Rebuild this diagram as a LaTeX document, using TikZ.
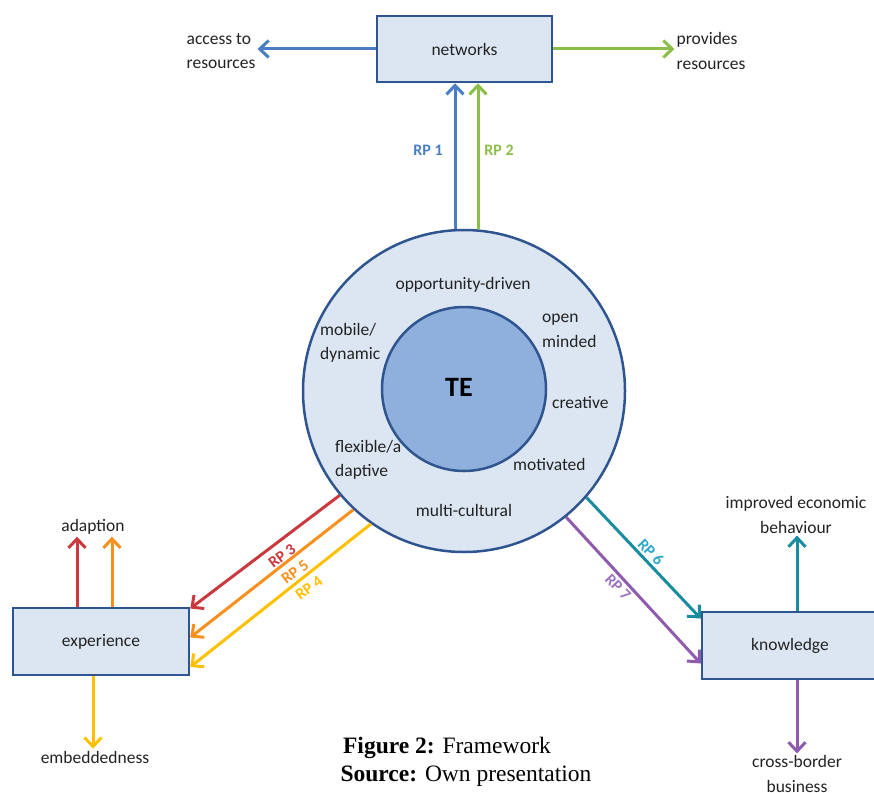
\documentclass[tikz,border=0pt]{standalone}
\usepackage{fontspec}
\setmainfont{Carlito}
\newfontfamily\capfont{Liberation Serif}
\usetikzlibrary{arrows.meta,calc}
\definecolor{cblue}{HTML}{4A7EC4}
\definecolor{cgreen}{HTML}{8BBE48}
\definecolor{cred}{HTML}{C9393E}
\definecolor{corange}{HTML}{F7901E}
\definecolor{cyellow}{HTML}{FFC000}
\definecolor{cteal}{HTML}{1A8CA0}
\definecolor{cteallbl}{HTML}{2BA8C8}
\definecolor{cpurple}{HTML}{8E5BAD}
\definecolor{cpurplelbl}{HTML}{9B72C2}
\definecolor{boxborder}{HTML}{2F5590}
\definecolor{boxfill}{HTML}{DCE6F2}
\definecolor{innerfill}{HTML}{8FB0DD}
\definecolor{txt}{HTML}{222222}
\begin{document}
\begin{tikzpicture}[x=1pt,y=-1pt,
  box/.style={draw=boxborder, fill=boxfill, line width=2.5pt, minimum width=175pt, minimum height=66pt, text=txt, font=\fontsize{17.5}{20}\selectfont},
  lbl/.style={text=txt, align=center, font=\fontsize{17.5}{24.5}\selectfont, inner sep=2pt},
  lbll/.style={lbl, align=left},
  arr/.style={line width=3pt, -{Straight Barb[length=9pt,width=17pt]}},
  rp/.style={font=\bfseries\fontsize{16}{20}\selectfont, inner sep=0pt}
]
\useasboundingbox (0,0) rectangle (874,792);

% boxes
\node[box] (net) at (464.5,49) {networks};
\node[box, minimum width=176pt, minimum height=67pt] (exp) at (101,641.5) {experience};
\node[box, minimum width=176pt, minimum height=67pt] (kno) at (790,645.5) {knowledge};

% circles
\node[circle, draw=boxborder, fill=boxfill, line width=2.5pt, minimum size=322pt, inner sep=0pt] (outer) at (464,391) {};
\node[circle, draw=boxborder, fill=innerfill, line width=2.5pt, minimum size=164pt, inner sep=0pt] (inner) at (464,389) {};
\node[font=\bfseries\fontsize{28}{30}\selectfont, text=black] (te) at (459,387) {TE};

% ring texts
\node[lbl] (opp) at (463,285) {opportunity-driven};
\node[lbll, anchor=west] (mob) at (318,343) {mobile/\\dynamic};
\node[lbll, anchor=west] (open) at (540,331) {open\\minded};
\node[lbll, anchor=west] (cre) at (550,403) {creative};
\node[lbll, anchor=west] (flex) at (333,460) {flexible/a\\daptive};
\node[lbll, anchor=west] (mot) at (511,464) {motivated};
\node[lbl] (multi) at (464,510) {multi-cultural};

% outer labels
\node[lbll] (acc) at (221,51) {access to\\resources};
\node[lbll] (prov) at (711,51) {provides\\resources};
\node[lbl] (adapt) at (93,527) {adaption};
\node[lbl] (emb) at (95,757) {embeddedness};
\node[lbl] (impr) at (796,515) {improved economic\\behaviour};
\node[lbl] (cross) at (797,774) {cross-border\\business};

% network arrows
\draw[arr, cblue] (net.west) -- (net.west -| acc.east);
\draw[arr, cgreen] (net.east) -- (net.east -| prov.west);
\draw[arr, cblue] ([xshift=-9pt]outer.north) -- ([xshift=-9.5pt]net.south);
\draw[arr, cgreen] ([xshift=14pt]outer.north) -- ([xshift=13.5pt]net.south);
\node[rp, text=cblue] (rp1) at (428,150) {RP 1};
\node[rp, text=cgreen] (rp2) at (499,150) {RP 2};

% experience arrows
\draw[arr, cred] (outer.220) -- ([yshift=33pt]exp.east);
\draw[arr, corange] (outer.227) -- ([yshift=4pt]exp.east);
\draw[arr, cyellow] (outer.235) -- ([yshift=-25.5pt]exp.east);
\node[rp, text=cred, rotate=37] (rp3) at (282,556) {RP 3};
\node[rp, text=corange, rotate=37] (rp5) at (295,572) {RP 5};
\node[rp, text=cyellow, rotate=37] (rp4) at (309,588) {RP 4};
\draw[arr, cred] ([xshift=-24pt]exp.north) -- ([xshift=-24pt]exp.north |- adapt.south);
\draw[arr, corange] ([xshift=11pt]exp.north) -- ([xshift=11pt]exp.north |- adapt.south);
\draw[arr, cyellow] ([xshift=-8pt]exp.south) -- ([xshift=-8pt]exp.south |- emb.north);

% knowledge arrows
\draw[arr, cteal] (outer.-41) -- ([yshift=27pt]kno.west);
\draw[arr, cpurple] (outer.-51) -- ([yshift=-18pt]kno.west);
\node[rp, text=cteallbl, rotate=-46] (rp6) at (651,552) {RP 6};
\node[rp, text=cpurplelbl, rotate=-46] (rp7) at (618,587) {RP 7};
\draw[arr, cteal] ([xshift=7pt]kno.north) -- ([xshift=7pt]kno.north |- impr.south);
\draw[arr, cpurple] ([xshift=7pt]kno.south) -- ([xshift=7pt]kno.south |- cross.north);

% caption
\node[font=\capfont\fontsize{23.5}{26}\selectfont, text=black, inner sep=0pt] (cap1) at (447,748) {\textbf{Figure 2:} Framework};
\node[font=\capfont\fontsize{23.5}{26}\selectfont, text=black, inner sep=0pt] (cap2) at (466,776) {\textbf{Source:} Own presentation};
\end{tikzpicture}
\end{document}
